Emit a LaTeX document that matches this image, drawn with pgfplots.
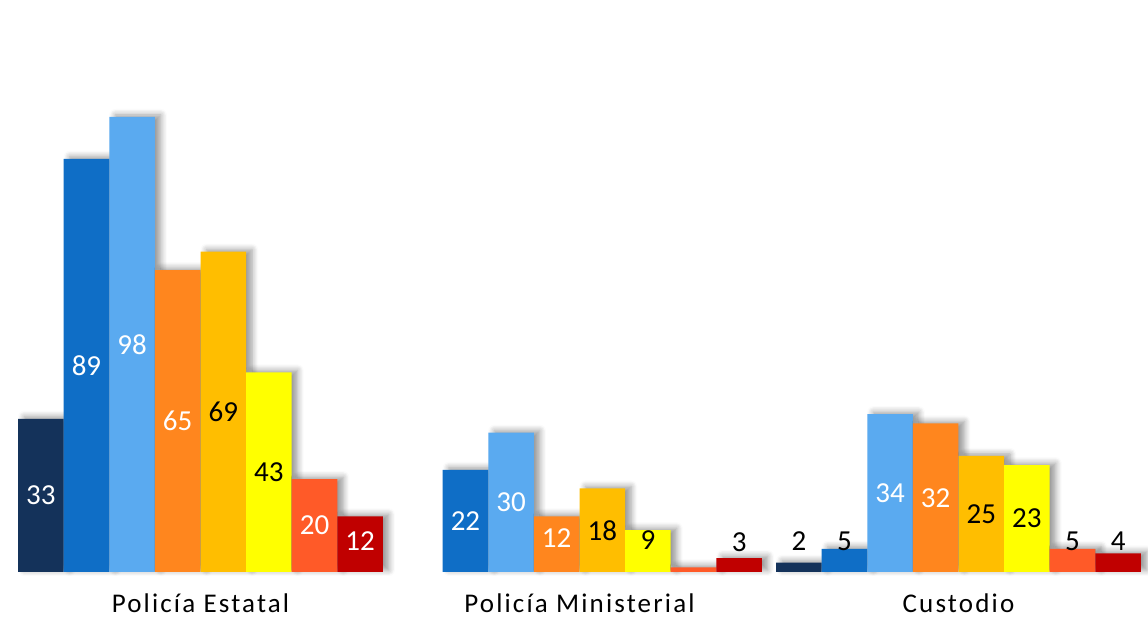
\documentclass[border=0pt]{standalone}
\usepackage{fontspec}
\setmainfont{Carlito}
\newfontfamily\catfont[LetterSpace=8]{Carlito}
\usepackage{pgfplots}
\pgfplotsset{compat=1.18}
\usetikzlibrary{shadows.blur}
\definecolor{c0}{HTML}{14325A}
\definecolor{c1}{HTML}{0F6EC6}
\definecolor{c2}{HTML}{5AAAF0}
\definecolor{c3}{HTML}{FF861E}
\definecolor{c4}{HTML}{FFBE00}
\definecolor{c5}{HTML}{FFFF00}
\definecolor{c6}{HTML}{FF5A28}
\definecolor{c7}{HTML}{C00000}
\pgfplotsset{
  mybar/.style={ybar, draw=none, bar width=0.1203, bar shift=#1,
    blur shadow={shadow xshift=3pt, shadow yshift=1pt, shadow blur steps=6, shadow blur radius=3pt, shadow opacity=40}},
}
\begin{document}
\begin{tikzpicture}
\useasboundingbox (0,-27.5pt) rectangle (574pt,286pt);
\begin{axis}[
  at={(0,0)}, anchor=south west,
  scale only axis, width=574pt, height=286pt,
  xmin=-0.529, xmax=2.5, ymin=0, ymax=123.2,
  axis lines*=left, axis line style={draw=none},
  ytick=\empty, xtick={0,1,2},
  xticklabels={Policía Estatal, Policía Ministerial, Custodio},
  major tick length=0pt,
  xticklabel style={anchor=base, yshift=-20.5pt, font=\catfont\fontsize{13.5pt}{15pt}\selectfont},
  clip=false,
]
\addplot[mybar=-0.4211, fill=c0] coordinates {(0,33) (2,2)};
\addplot[mybar=-0.3008, fill=c1] coordinates {(0,89) (1,22) (2,5)};
\addplot[mybar=-0.1805, fill=c2] coordinates {(0,98) (1,30) (2,34)};
\addplot[mybar=-0.0602, fill=c3] coordinates {(0,65) (1,12) (2,32)};
\addplot[mybar=0.0602, fill=c4] coordinates {(0,69) (1,18) (2,25)};
\addplot[mybar=0.1805, fill=c5] coordinates {(0,43) (1,9) (2,23)};
\addplot[mybar=0.3008, fill=c6] coordinates {(0,20) (1,1) (2,5)};
\addplot[mybar=0.4211, fill=c7] coordinates {(0,12) (1,3) (2,4)};
% data labels
\addplot[draw=none, mark=none, nodes near coords, point meta=explicit symbolic,
  nodes near coords style={anchor=center, inner sep=0pt, font=\fontsize{14.5pt}{16pt}\selectfont}]
  table[meta=lab, row sep=\\] {
  x y lab \\
  -0.4211 16.5 {\textcolor{white}{33}} \\
  -0.3008 44.5 {\textcolor{white}{89}} \\
  -0.1805 49.0 {\textcolor{white}{98}} \\
  -0.0602 32.5 {\textcolor{white}{65}} \\
  0.0602 34.5 {\textcolor{black}{69}} \\
  0.1805 21.5 {\textcolor{black}{43}} \\
  0.3008 10.0 {\textcolor{white}{20}} \\
  0.4211 6.7 {\textcolor{white}{12}} \\
  0.6992 11.0 {\textcolor{white}{22}} \\
  0.8195 15.0 {\textcolor{white}{30}} \\
  0.9398 7.3 {\textcolor{white}{12}} \\
  1.0602 9.0 {\textcolor{black}{18}} \\
  1.1805 6.9 {\textcolor{black}{9}} \\
  1.4211 6.5 {\textcolor{black}{3}} \\
  1.5789 6.7 {\textcolor{black}{2}} \\
  1.6992 6.7 {\textcolor{black}{5}} \\
  1.8195 17.0 {\textcolor{white}{34}} \\
  1.9398 16.0 {\textcolor{white}{32}} \\
  2.0602 12.5 {\textcolor{black}{25}} \\
  2.1805 11.5 {\textcolor{black}{23}} \\
  2.3008 6.7 {\textcolor{black}{5}} \\
  2.4211 6.7 {\textcolor{black}{4}} \\
};
\end{axis}
\end{tikzpicture}
\end{document}
